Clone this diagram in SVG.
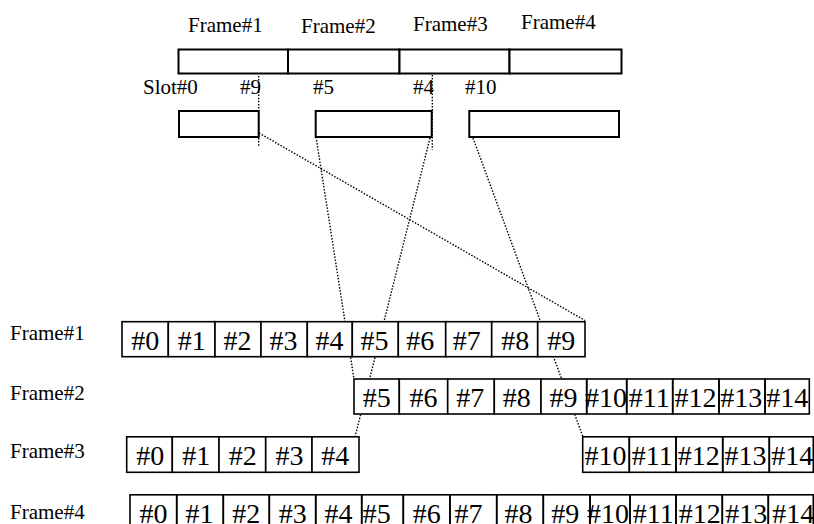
<svg xmlns="http://www.w3.org/2000/svg" width="814" height="524" viewBox="0 0 814 524">
<style>
.lbl{font-family:"Liberation Serif","Times New Roman",serif;font-size:21px;fill:#000}
.cell{font-family:"Liberation Serif","Times New Roman",serif;font-size:28px;fill:#000}
.box{fill:#fff;stroke:#000;stroke-width:2}
.c{fill:#fff;stroke:#000;stroke-width:1.6}
.dot{fill:none;stroke:#000;stroke-width:1.4;stroke-dasharray:1.5 1.6}
</style>
<rect width="814" height="524" fill="#fff"/>

<g id="top-frames">
<rect class="box" x="178.5" y="49.5" width="109.5" height="24"/>
<rect class="box" x="288" y="49.5" width="111.5" height="24"/>
<rect class="box" x="399.5" y="49.5" width="110" height="24"/>
<rect class="box" x="509.5" y="49.5" width="112" height="24"/>
<text class="lbl" x="188" y="32">Frame#1</text>
<text class="lbl" x="301" y="32.5">Frame#2</text>
<text class="lbl" x="413" y="30.5">Frame#3</text>
<text class="lbl" x="521" y="29">Frame#4</text>
</g>

<g id="slots">
<text class="lbl" x="143" y="94">Slot#0</text>
<text class="lbl" x="240" y="94">#9</text>
<text class="lbl" x="313" y="94">#5</text>
<text class="lbl" x="413" y="94">#4</text>
<text class="lbl" x="465" y="93.5">#10</text>
<rect class="box" x="179" y="111" width="79.7" height="26"/>
<rect class="box" x="315.7" y="111" width="116" height="26"/>
<rect class="box" x="469.3" y="111" width="149.7" height="26"/>
</g>

<g id="connectors">
<line class="dot" x1="258.7" y1="76" x2="258.7" y2="146"/>
<line class="dot" x1="432.3" y1="75" x2="432.3" y2="150"/>
<line class="dot" x1="259" y1="133" x2="585" y2="320.5"/>
<line class="dot" x1="316" y1="137" x2="354" y2="379"/>
<line class="dot" x1="430" y1="138" x2="355" y2="437"/>
<line class="dot" x1="473" y1="138" x2="583" y2="437"/>
</g>

<g id="frame1-label"><text class="lbl" x="10" y="339.5">Frame#1</text></g>
<g id="frame2-label"><text class="lbl" x="10" y="400">Frame#2</text></g>
<g id="frame3-label"><text class="lbl" x="10" y="457.5">Frame#3</text></g>
<g id="frame4-label"><text class="lbl" x="10" y="519">Frame#4</text></g>

<g id="frame1-row">
<rect class="c" x="122" y="321.7" width="46.3" height="35"/>
<rect class="c" x="168.3" y="321.7" width="46.7" height="35"/>
<rect class="c" x="215" y="321.7" width="46" height="35"/>
<rect class="c" x="261" y="321.7" width="46.3" height="35"/>
<rect class="c" x="307.3" y="321.7" width="45" height="35"/>
<rect class="c" x="352.3" y="321.7" width="46" height="35"/>
<rect class="c" x="398.3" y="321.7" width="47.4" height="35"/>
<rect class="c" x="445.7" y="321.7" width="46" height="35"/>
<rect class="c" x="491.7" y="321.7" width="46" height="35"/>
<rect class="c" x="537.7" y="321.7" width="47.3" height="35"/>
<text class="cell" x="131.2" y="350">#0</text>
<text class="cell" x="177.8" y="350">#1</text>
<text class="cell" x="223.5" y="350">#2</text>
<text class="cell" x="269.5" y="350">#3</text>
<text class="cell" x="315.5" y="350">#4</text>
<text class="cell" x="360.5" y="350">#5</text>
<text class="cell" x="406.2" y="350">#6</text>
<text class="cell" x="452.8" y="350">#7</text>
<text class="cell" x="501.2" y="350">#8</text>
<text class="cell" x="547.2" y="350">#9</text>
</g>

<g id="frame2-row">
<rect class="c" x="354" y="379" width="45.3" height="35"/>
<rect class="c" x="399.3" y="379" width="48.4" height="35"/>
<rect class="c" x="447.7" y="379" width="46.6" height="35"/>
<rect class="c" x="494.3" y="379" width="46.7" height="35"/>
<rect class="c" x="541" y="379" width="45.7" height="35"/>
<text class="cell" x="362.8" y="407">#5</text>
<text class="cell" x="409.5" y="407">#6</text>
<text class="cell" x="456.2" y="407">#7</text>
<text class="cell" x="502.8" y="407">#8</text>
<text class="cell" x="549.5" y="407">#9</text>
<text class="cell" x="585" y="407">#10</text>
<text class="cell" x="628.8" y="407">#11</text>
<text class="cell" x="674.5" y="407">#12</text>
<text class="cell" x="720.2" y="407">#13</text>
<text class="cell" x="766.2" y="407">#14</text>
<rect class="c" fill="none" style="fill:none" x="586.7" y="379" width="40" height="35"/>
<rect class="c" style="fill:none" x="626.7" y="379" width="46" height="35"/>
<rect class="c" style="fill:none" x="672.7" y="379" width="46.3" height="35"/>
<rect class="c" style="fill:none" x="719" y="379" width="46" height="35"/>
<rect class="c" style="fill:none" x="765" y="379" width="44.3" height="35"/>
</g>

<g id="frame3-row">
<rect class="c" x="126.7" y="436.8" width="45.6" height="35.5"/>
<rect class="c" x="172.3" y="436.8" width="46.7" height="35.5"/>
<rect class="c" x="219" y="436.8" width="46.7" height="35.5"/>
<rect class="c" x="265.7" y="436.8" width="46.3" height="35.5"/>
<rect class="c" x="312" y="436.8" width="47" height="35.5"/>
<text class="cell" x="136.2" y="465">#0</text>
<text class="cell" x="182.2" y="465">#1</text>
<text class="cell" x="228.8" y="465">#2</text>
<text class="cell" x="275.5" y="465">#3</text>
<text class="cell" x="321.2" y="465">#4</text>
<text class="cell" x="584.5" y="465">#10</text>
<text class="cell" x="631.8" y="465">#11</text>
<text class="cell" x="677.8" y="465">#12</text>
<text class="cell" x="724.5" y="465">#13</text>
<text class="cell" x="771.2" y="465">#14</text>
<rect class="c" style="fill:none" x="582.7" y="436.8" width="46.6" height="35.5"/>
<rect class="c" style="fill:none" x="629.3" y="436.8" width="46.7" height="35.5"/>
<rect class="c" style="fill:none" x="676" y="436.8" width="46.7" height="35.5"/>
<rect class="c" style="fill:none" x="722.7" y="436.8" width="46.6" height="35.5"/>
<rect class="c" style="fill:none" x="769.3" y="436.8" width="44" height="35.5"/>
</g>

<g id="frame4-row">
<text class="cell" x="139.5" y="523">#0</text>
<text class="cell" x="185.5" y="523">#1</text>
<text class="cell" x="232.2" y="523">#2</text>
<text class="cell" x="278.8" y="523">#3</text>
<text class="cell" x="324.5" y="523">#4</text>
<text class="cell" x="362.8" y="523">#5</text>
<text class="cell" x="412.8" y="523">#6</text>
<text class="cell" x="454.5" y="523">#7</text>
<text class="cell" x="504.5" y="523">#8</text>
<text class="cell" x="551.2" y="523">#9</text>
<text class="cell" x="587" y="523">#10</text>
<text class="cell" x="632.8" y="523">#11</text>
<text class="cell" x="678.8" y="523">#12</text>
<text class="cell" x="725.2" y="523">#13</text>
<text class="cell" x="772.2" y="523">#14</text>
<rect class="c" style="fill:none" x="130" y="494.8" width="46.7" height="40"/>
<rect class="c" style="fill:none" x="176.7" y="494.8" width="46.6" height="40"/>
<rect class="c" style="fill:none" x="223.3" y="494.8" width="46" height="40"/>
<rect class="c" style="fill:none" x="269.3" y="494.8" width="46.4" height="40"/>
<rect class="c" style="fill:none" x="315.7" y="494.8" width="46" height="40"/>
<rect class="c" style="fill:none" x="361.7" y="494.8" width="41.6" height="40"/>
<rect class="c" style="fill:none" x="403.3" y="494.8" width="46.7" height="40"/>
<rect class="c" style="fill:none" x="450" y="494.8" width="46.7" height="40"/>
<rect class="c" style="fill:none" x="496.7" y="494.8" width="46.6" height="40"/>
<rect class="c" style="fill:none" x="543.3" y="494.8" width="46.7" height="40"/>
<rect class="c" style="fill:none" x="590" y="494.8" width="40" height="40"/>
<rect class="c" style="fill:none" x="630" y="494.8" width="46" height="40"/>
<rect class="c" style="fill:none" x="676" y="494.8" width="46.3" height="40"/>
<rect class="c" style="fill:none" x="722.3" y="494.8" width="46" height="40"/>
<rect class="c" style="fill:none" x="768.3" y="494.8" width="45" height="40"/>
</g>
</svg>
